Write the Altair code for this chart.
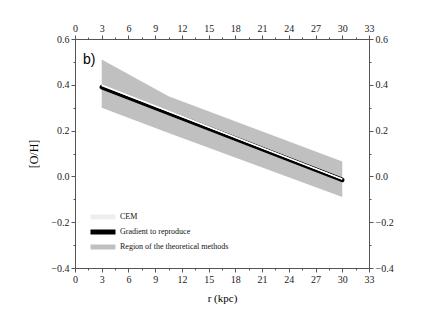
import altair as alt
import pandas as pd

# data
band_r = [3, 10.5, 30]
band_upper = [0.51, 0.35, 0.065]
band_lower = [0.30, 0.19, -0.09]

grad_r = [3, 30]
grad_oh = [0.39, -0.015]

cem_r = [3, 10, 20, 30]
cem_oh = [0.398, 0.292, 0.14, -0.012]

series = ["CEM", "Gradient to reproduce", "Region of the theoretical methods"]
series_colors = ["#eeeeee", "#000000", "#c0c0c0"]

x_minor = [i * 1.5 for i in range(0, 23)]
y_minor = [round(-0.4 + 0.1 * i, 2) for i in range(0, 11)]

panel_label = ["b)"]
panel_r = [0.9]
panel_oh = [0.51]

band_df = pd.DataFrame({"r": band_r, "hi": band_upper, "lo": band_lower,
                        "s": series[2]})
grad_df = pd.DataFrame({"r": grad_r, "oh": grad_oh, "s": series[1]})
cem_df = pd.DataFrame({"r": cem_r, "oh": cem_oh, "s": series[0]})
lab_df = pd.DataFrame({"r": panel_r, "oh": panel_oh, "t": panel_label})

FONT = "Liberation Serif"
xs = alt.Scale(domain=[0, 33], nice=False, zero=False)
ys = alt.Scale(domain=[-0.4, 0.6], nice=False, zero=False)
color = alt.Color("s:N", scale=alt.Scale(domain=series, range=series_colors),
                  legend=alt.Legend(title=None, orient="none", legendX=23, legendY=173,
                                    symbolType="M-5,0H5", symbolSize=25,
                                    symbolStrokeWidth=5, labelFont=FONT,
                                    labelFontSize=8, rowPadding=-9, labelOffset=12,
                                    symbolOffset=0, labelColor="#111"))

tick_cond_x = {"condition": {"test": "datum.value % 3 === 0", "value": 4}, "value": 2}
tick_cond_y = {"condition": {"test": "abs(round(datum.value*10)) % 2 === 0", "value": 4}, "value": 2}

def xaxis(orient):
    kw = {}
    if orient == "bottom":
        kw["title"] = "r (kpc)"
    else:
        kw["title"] = None
    return alt.Axis(orient=orient, values=x_minor, tickSize=tick_cond_x,
                    labelExpr="datum.value % 3 === 0 ? datum.label : ''",
                    grid=False, labelFont=FONT, labelFontSize=10, titleFont=FONT,
                    titleFontSize=11, titleFontWeight="normal", domainColor="#555",
                    tickColor="#555", labelColor="#222", titlePadding=8,
                    labelFlush=False, labelPadding=2, **kw)

def yaxis(orient):
    kw = {}
    if orient == "left":
        kw["title"] = "[O/H]"
    else:
        kw["title"] = None
    return alt.Axis(orient=orient, values=y_minor, tickSize=tick_cond_y,
                    labelExpr="abs(round(datum.value*10)) % 2 === 0 ? format(datum.value, '.1f') : ''",
                    grid=False, labelFont=FONT, labelFontSize=10, titleFont=FONT,
                    titleFontSize=12, titleFontWeight="normal", domainColor="#555",
                    tickColor="#555", labelColor="#222", titlePadding=10,
                    labelFlush=False, labelPadding=2, **kw)

band = alt.Chart(band_df).mark_area(opacity=1).encode(
    x=alt.X("r:Q", scale=xs, axis=xaxis("bottom")),
    y=alt.Y("hi:Q", scale=ys, axis=yaxis("left")),
    y2="lo:Q",
    color=color,
)
grad = alt.Chart(grad_df).mark_line(strokeWidth=4.5, strokeCap="round").encode(
    x=alt.X("r:Q", scale=xs, axis=None), y=alt.Y("oh:Q", scale=ys, axis=None), color=color)
cem = alt.Chart(cem_df).mark_line(strokeWidth=1.5).encode(
    x=alt.X("r:Q", scale=xs, axis=None), y=alt.Y("oh:Q", scale=ys, axis=None), color=color)
cem2 = alt.Chart(cem_df).mark_line(strokeWidth=1.5, color="white").encode(
    x=alt.X("r:Q", scale=xs, axis=None), y=alt.Y("oh:Q", scale=ys, axis=None))
txt = alt.Chart(lab_df).mark_text(font="Liberation Sans", fontSize=14, align="left").encode(
    x=alt.X("r:Q", scale=xs, axis=None), y=alt.Y("oh:Q", scale=ys, axis=None), text="t:N")
mirror = alt.Chart(grad_df).mark_line(opacity=0).encode(
    x=alt.X("r:Q", scale=xs, axis=xaxis("top")),
    y=alt.Y("oh:Q", scale=ys, axis=yaxis("right")))

chart = alt.layer(band, grad, cem, cem2, txt, mirror).resolve_axis(
    x="independent", y="independent"
).properties(
    width=294, height=229, padding={"left": 19, "top": 15, "right": 5, "bottom": 5}
).configure_view(stroke=None).configure_axis(
    labelFont=FONT, titleFont=FONT, titleFontWeight="normal"
)

chart.save("out.html", embed_options={"renderer": "svg", "actions": False})
